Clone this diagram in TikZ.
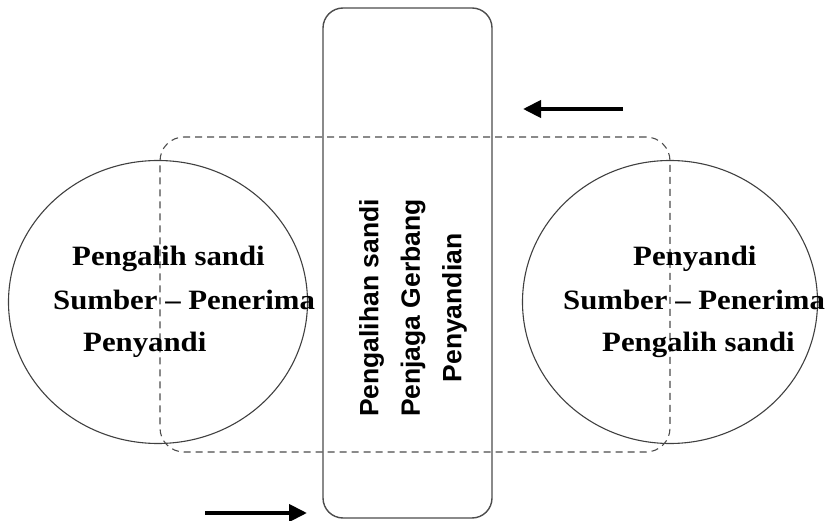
\documentclass[tikz,border=0pt]{standalone}
\usepackage{fontspec}
\setmainfont{Liberation Serif}[FakeStretch=1.1]
\newfontfamily\vsans{Liberation Sans}
\usetikzlibrary{shapes.geometric,arrows.meta}
\tikzset{
  circ/.style={ellipse,draw=black!75,line width=1.1pt,minimum width=299pt,minimum height=283pt,inner sep=0pt},
  gate/.style={rectangle,rounded corners=20pt,draw=black!70,line width=1.4pt,minimum width=169pt,minimum height=510pt,inner sep=0pt},
  zone/.style={rectangle,rounded corners=24pt,draw=black!70,line width=1.1pt,dash pattern=on 7pt off 5pt,minimum width=510pt,minimum height=315pt,inner sep=0pt},
  lbl/.style={anchor=base west,inner sep=0pt,font=\fontsize{28}{34}\selectfont\bfseries},
  vlbl/.style={rotate=90,align=center,inner sep=0pt,font=\vsans\fontsize{26.5}{41.5}\selectfont\bfseries},
  flow/.style={line width=4pt,-{Triangle[length=18pt,width=17pt]}}
}
\begin{document}
\begin{tikzpicture}[x=1pt,y=-1pt]
\useasboundingbox (0,0) rectangle (825,521);
\node[circ] (lc) at (158,302) {};
\node[circ,minimum width=295pt] (rc) at (670,302) {};
\node[zone] (z) at (415,294.5) {};
\node[gate] (g) at (407.5,263) {};
\node[vlbl] (vt) at (413,308) {Pengalihan sandi\\Penjaga Gerbang\\Penyandian};
\node[lbl] (l1) at (72,266) {Pengalih sandi};
\node[lbl] (l2) at (53,310) {Sumber – Penerima};
\node[lbl] (l3) at (83,352) {Penyandi};
\node[lbl] (r1) at (633,266) {Penyandi};
\node[lbl] (r2) at (563,310) {Sumber – Penerima};
\node[lbl] (r3) at (602,352) {Pengalih sandi};
\coordinate (ta) at (623,109);
\coordinate (tb) at (523,109);
\coordinate (ba) at (205,513);
\coordinate (bb) at (307,513);
\draw[flow] (ta) -- (tb);
\draw[flow] (ba) -- (bb);
\end{tikzpicture}
\end{document}
